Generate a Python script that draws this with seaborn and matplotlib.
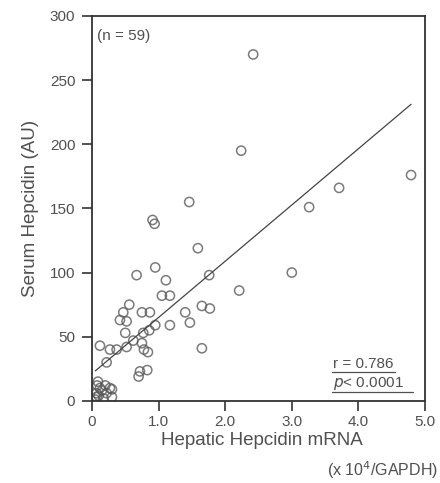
import numpy as np
import pandas as pd
import matplotlib
matplotlib.use('Agg')
import matplotlib.pyplot as plt
import seaborn as sns
from matplotlib.lines import Line2D

# hepatic hepcidin mRNA (x 10^4 / GAPDH) vs serum hepcidin (AU)
mrna = [2.42, 2.24, 1.46, 4.79, 3.71, 3.26, 3.00, 2.21, 0.91, 0.94,
        1.59, 0.95, 0.67, 1.11, 1.76, 1.05, 1.17, 0.56, 1.65, 1.77,
        1.40, 0.75, 0.87, 0.47, 0.42, 0.52, 0.95, 1.17, 1.47, 0.50,
        0.77, 0.86, 0.12, 0.27, 0.37, 0.52, 0.75, 0.84, 1.65, 0.22,
        0.72, 0.83, 0.70, 0.78, 0.62, 0.09, 0.08, 0.12, 0.27, 0.07,
        0.22, 0.30, 0.07, 0.17, 0.05, 0.20, 0.15, 0.10, 0.30]
serum = [270, 195, 155, 176, 166, 151, 100, 86, 141, 138,
         119, 104, 98, 94, 98, 82, 82, 75, 74, 72,
         69, 69, 69, 69, 63, 62, 59, 59, 61, 53,
         53, 55, 43, 40, 40, 42, 45, 38, 41, 30,
         23, 24, 19, 40, 47, 15, 12, 10, 10, 6,
         6, 3, 3, 2, 1, 12, 8, 4, 9]
x_ticks = [0, 1, 2, 3, 4, 5]
x_tick_labels = ['0', '1.0', '2.0', '3.0', '4.0', '5.0']
y_ticks = [0, 50, 100, 150, 200, 250, 300]

df = pd.DataFrame({'mrna': mrna, 'serum': serum})

sns.set_style('ticks')
plt.rcParams['font.family'] = ['Liberation Sans', 'DejaVu Sans']
txt = '#505050'
edge = '#5a5a5a'

fig = plt.figure(figsize=(4.4, 4.83), dpi=100)
ax = fig.add_axes([0.209, 0.170, 0.757, 0.797])

sns.regplot(x='mrna', y='serum', data=df, ci=None, ax=ax,
            scatter_kws=dict(s=44, facecolors='none', edgecolors=edge, linewidths=1.1),
            line_kws=dict(color='#444444', lw=0.9))

ax.set_xlim(0, 5)
ax.set_ylim(0, 300)
ax.set_xticks(x_ticks)
ax.set_xticklabels(x_tick_labels)
ax.set_yticks(y_ticks)
ax.tick_params(direction='out', length=7, width=1.2, colors='#333333',
               labelcolor=txt, labelsize=11, pad=3)
ax.tick_params(axis='y', pad=5)
for s in ax.spines.values():
    s.set_visible(True)
    s.set_color('#333333')
    s.set_linewidth(1.3)

ax.set_xlabel('')
ax.set_ylabel('Serum Hepcidin (AU)', fontsize=13.5, color=txt, labelpad=8)
fig.text(0.595, 0.088, 'Hepatic Hepcidin mRNA', ha='center', va='center',
         fontsize=13.5, color=txt)
fig.text(0.995, 0.027, r'(x 10$^4$/GAPDH)', ha='right', va='center',
         fontsize=11.5, color=txt)

ax.text(0.014, 0.965, '(n = 59)', transform=ax.transAxes, ha='left', va='top',
        fontsize=11, color=txt)

ax.text(0.724, 0.095, 'r = 0.786', transform=ax.transAxes, ha='left',
        va='center', fontsize=11, color=txt)
ax.text(0.724, 0.045, '$p$< 0.0001', transform=ax.transAxes, ha='left',
        va='center', fontsize=11, color=txt)
ax.add_line(Line2D([0.722, 0.91], [0.076, 0.076], transform=ax.transAxes,
                   color=txt, lw=0.9))
ax.add_line(Line2D([0.722, 0.965], [0.023, 0.023], transform=ax.transAxes,
                   color=txt, lw=0.9))

fig.savefig('out.png', dpi=100)
